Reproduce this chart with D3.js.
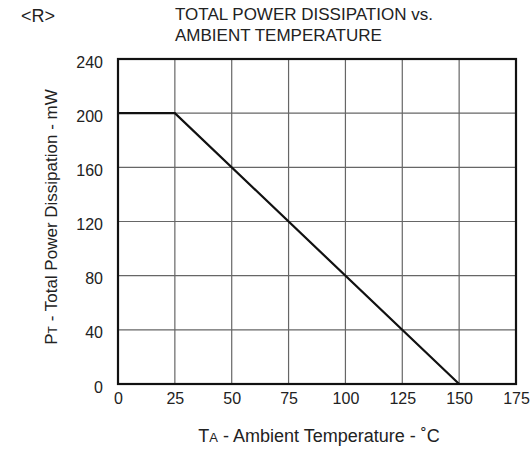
<!DOCTYPE html>
<html><head><meta charset="utf-8">
<script src="https://cdn.jsdelivr.net/npm/d3@7"></script>
<style>body{margin:0;background:#fff}svg{display:block}text{font-family:"Liberation Sans",Arial,sans-serif;fill:#222}</style>
</head><body><svg id="c" width="531" height="449"></svg>
<script>
const temps = [0, 25, 150];
const power = [200, 200, 0];
const xTicks = [0, 25, 50, 75, 100, 125, 150, 175];
const yTicks = [0, 40, 80, 120, 160, 200, 240];
const titleLines = ["TOTAL POWER DISSIPATION vs.", "AMBIENT TEMPERATURE"];

const svg = d3.select("#c");
const L = 118, R = 516, T = 59, B = 384;
const x = d3.scaleLinear().domain([0, 175]).range([L, R]);
const y = d3.scaleLinear().domain([0, 240]).range([B, T]);

// grid
svg.append("g").selectAll("line").data(xTicks.slice(1, -1)).join("line")
  .attr("x1", d => x(d)).attr("x2", d => x(d)).attr("y1", T).attr("y2", B)
  .attr("stroke", "#666").attr("stroke-width", 1.2);
svg.append("g").selectAll("line").data(yTicks.slice(1, -1)).join("line")
  .attr("y1", d => y(d)).attr("y2", d => y(d)).attr("x1", L).attr("x2", R)
  .attr("stroke", "#666").attr("stroke-width", 1.2);

// data line
svg.append("path").datum(temps.map((t, i) => [t, power[i]]))
  .attr("d", d3.line().x(d => x(d[0])).y(d => y(d[1])))
  .attr("fill", "none").attr("stroke", "#111").attr("stroke-width", 2.2);

// frame
svg.append("rect").attr("x", L).attr("y", T).attr("width", R - L).attr("height", B - T)
  .attr("fill", "none").attr("stroke", "#111").attr("stroke-width", 2.2);

const ff = '"Liberation Sans",Arial,sans-serif';
// axes labels via d3 axes (no lines)
const xa = svg.append("g").attr("transform", `translate(0,${B})`)
  .call(d3.axisBottom(x).tickValues(xTicks).tickSize(0).tickPadding(9));
xa.select(".domain").remove();
xa.selectAll("text").style("font-size", "16px").attr("fill", "#222").style("font-family", ff);
const ya = svg.append("g").attr("transform", `translate(${L - 4},3)`)
  .call(d3.axisLeft(y).tickValues(yTicks).tickSize(0).tickPadding(11));
ya.select(".domain").remove();
ya.selectAll("text").style("font-size", "16px").attr("fill", "#222").style("font-family", ff);

// titles
svg.append("text").attr("x", 21).attr("y", 22).style("font-size", "18px").text("<R>");
svg.selectAll(".tl").data(titleLines).join("text").attr("class", "tl")
  .attr("x", 175).attr("y", (d, i) => 20 + i * 21).style("font-size", "17px").text(d => d);

// x-axis title
const xt = svg.append("text").attr("x", 319).attr("y", 442)
  .attr("text-anchor", "middle").style("font-size", "18px");
xt.append("tspan").text("T");
xt.append("tspan").style("font-size", "13px").text("A");
xt.append("tspan").text(" - Ambient Temperature - ˚C");

// y-axis title
const yt = svg.append("text").attr("transform", `translate(57,217) rotate(-90)`)
  .attr("text-anchor", "middle").style("font-size", "17px");
yt.append("tspan").text("P");
yt.append("tspan").style("font-size", "12px").text("T");
yt.append("tspan").text(" - Total Power Dissipation - mW");
</script></body></html>
